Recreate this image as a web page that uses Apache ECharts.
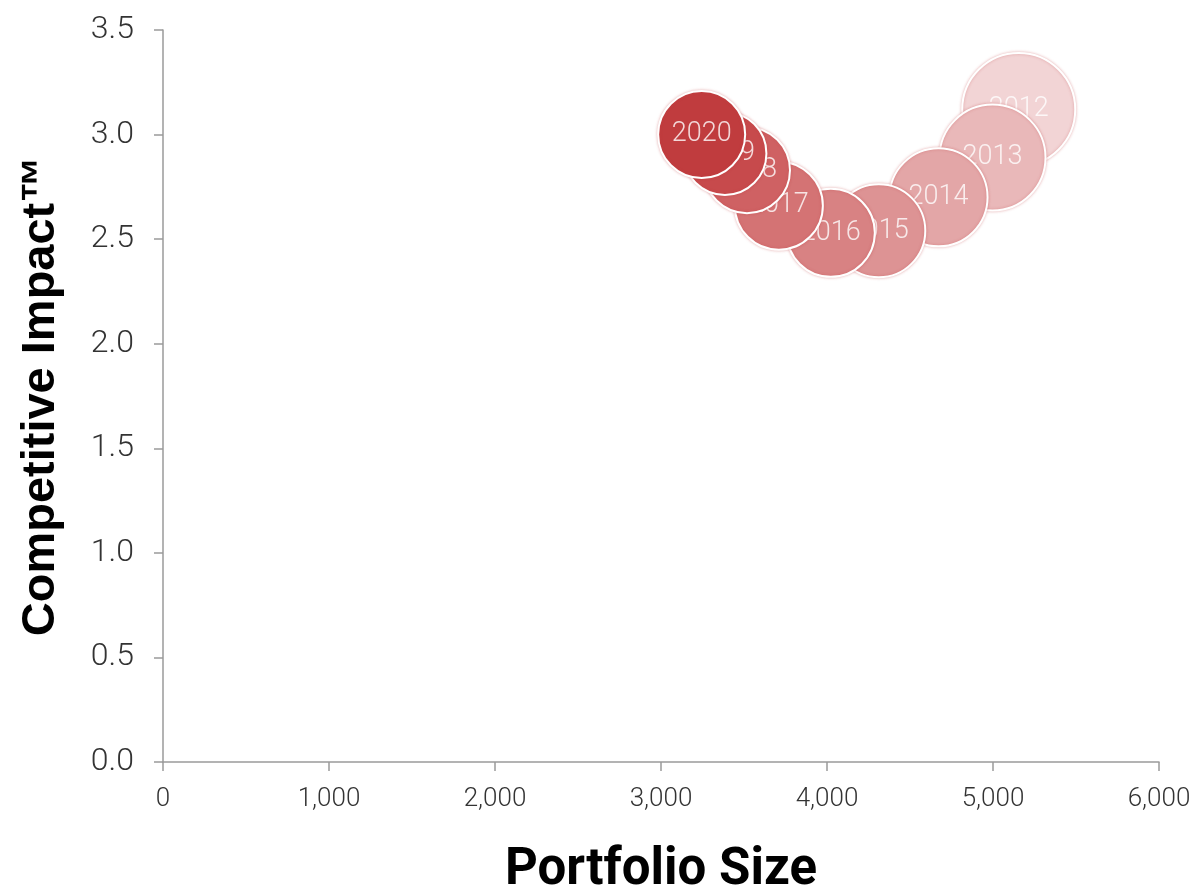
<!DOCTYPE html>
<html>
<head>
<meta charset="utf-8">
<title>Competitive Impact vs Portfolio Size</title>
<script src="https://cdn.jsdelivr.net/npm/echarts@6/dist/echarts.min.js"></script>
<style>
  html, body { margin: 0; padding: 0; background: #ffffff; }
  #chart { width: 1200px; height: 887px; }
</style>
</head>
<body>
<div id="chart"></div>
<script>
// Yearly portfolio snapshots, oldest first
const years = ['2012', '2013', '2014', '2015', '2016', '2017', '2018', '2019', '2020'];
const portfolioSize = [5155, 4997, 4672, 4312, 4023, 3710, 3518, 3385, 3245];
const competitiveImpact = [3.12, 2.89, 2.70, 2.54, 2.53, 2.66, 2.83, 2.91, 3.00];
// Bubble diameters in pixels
const bubbleSize = [113, 106, 98, 93, 88, 88, 86, 83, 87];

const xTicks = [0, 1000, 2000, 3000, 4000, 5000, 6000];
const yTicks = [0, 0.5, 1.0, 1.5, 2.0, 2.5, 3.0, 3.5];

// Shades of the base red, from pale (oldest) to full (latest)
const shades = ['#f2d4d5', '#e9b8b9', '#e3a6a7', '#dd9394', '#d88283', '#d47374', '#cf6163', '#c74a4c', '#c03c3e'];

const chart = echarts.init(document.getElementById('chart'));

const series = years.map((year, i) => ({
  type: 'scatter',
  name: year,
  z: 2 + i,
  symbol: 'circle',
  symbolSize: bubbleSize[i],
  data: [[portfolioSize[i], competitiveImpact[i]]],
  itemStyle: {
    color: shades[i],
    opacity: 1,
    borderColor: '#ffffff',
    borderWidth: 2,
    shadowBlur: 3,
    shadowColor: 'rgba(192, 60, 62, 0.35)'
  },
  label: {
    show: true,
    position: 'inside',
    formatter: year,
    color: 'rgba(255, 255, 255, 0.8)',
    fontFamily: 'Roboto',
    fontWeight: 300,
    fontSize: 27
  },
  emphasis: { disabled: true }
}));

chart.setOption({
  animation: false,
  backgroundColor: '#ffffff',
  grid: { left: 163, right: 41, top: 30, bottom: 125, containLabel: false, outerBoundsMode: 'none' },
  xAxis: {
    type: 'value',
    min: xTicks[0],
    max: xTicks[xTicks.length - 1],
    interval: xTicks[1] - xTicks[0],
    name: 'Portfolio Size',
    nameLocation: 'middle',
    nameGap: 84,
    nameTextStyle: { fontFamily: 'Roboto', fontWeight: 'bold', fontSize: 51, color: '#000000' },
    axisLine: { show: true, lineStyle: { color: '#9a9a9a', width: 1.5 } },
    axisTick: { show: true, length: 9, lineStyle: { color: '#9a9a9a', width: 1.5 } },
    splitLine: { show: false },
    axisLabel: {
      margin: 24,
      fontFamily: 'Roboto',
      fontWeight: 300,
      fontSize: 26,
      color: '#333333',
      formatter: v => v.toLocaleString('en-US')
    }
  },
  yAxis: {
    type: 'value',
    min: yTicks[0],
    max: yTicks[yTicks.length - 1],
    interval: yTicks[1] - yTicks[0],
    name: 'Competitive Impact\u2122',
    nameLocation: 'middle',
    nameGap: 98,
    nameRotate: 90,
    nameTextStyle: { fontFamily: "'Liberation Sans', Arial, sans-serif", fontWeight: 'bold', fontSize: 47, color: '#000000' },
    axisLine: { show: true, lineStyle: { color: '#9a9a9a', width: 1.5 } },
    axisTick: { show: true, length: 9, lineStyle: { color: '#9a9a9a', width: 1.5 } },
    splitLine: { show: false },
    axisLabel: {
      margin: 29,
      fontFamily: 'Roboto',
      fontWeight: 300,
      fontSize: 32,
      color: '#333333',
      formatter: v => v.toFixed(1)
    }
  },
  series: series
});
</script>
</body>
</html>
